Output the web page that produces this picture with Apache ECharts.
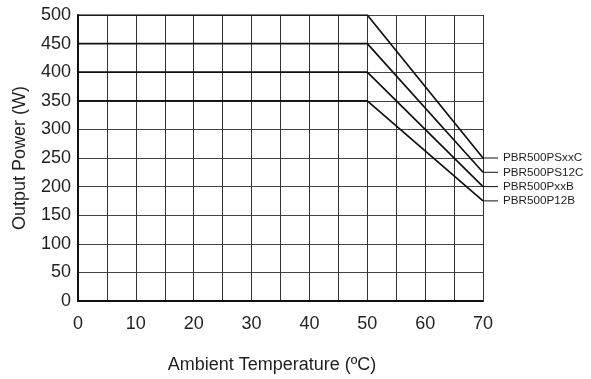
<!DOCTYPE html>
<html>
<head>
<meta charset="utf-8">
<script src="https://cdn.jsdelivr.net/npm/echarts@6/dist/echarts.min.js"></script>
<style>html,body{margin:0;padding:0;background:#fff}#c{width:591px;height:379px}</style>
</head>
<body>
<div id="c"></div>
<script>
const temps = [0, 50, 70];
const seriesNames = ['PBR500PSxxC', 'PBR500PS12C', 'PBR500PxxB', 'PBR500P12B'];
const psxxC = [500, 500, 250];
const ps12C = [450, 450, 225];
const pxxB = [400, 400, 200];
const p12B = [350, 350, 175];
const xTicks = [0, 10, 20, 30, 40, 50, 60, 70];
const yTicks = [0, 50, 100, 150, 200, 250, 300, 350, 400, 450, 500];
const xName = 'Ambient Temperature (ºC)';
const yName = 'Output Power (W)';

const allValues = [psxxC, ps12C, pxxB, p12B];
const textColor = '#231f20';
const font = '"Liberation Sans", Arial, sans-serif';

const chart = echarts.init(document.getElementById('c'), null, {renderer: 'canvas'});
chart.setOption({
  animation: false,
  backgroundColor: '#fff',
  grid: {left: 78, right: 108, top: 15, bottom: 77, containLabel: false},
  xAxis: {
    type: 'value', min: xTicks[0], max: xTicks[xTicks.length - 1], interval: 10,
    name: xName, nameLocation: 'middle', nameGap: 55,
    nameTextStyle: {color: textColor, fontSize: 18, fontFamily: font, padding: [0, 17, 0, 0]},
    axisLine: {show: true, lineStyle: {color: '#111', width: 2}},
    axisTick: {show: false},
    axisLabel: {color: textColor, fontSize: 18, fontFamily: font, margin: 14},
    splitLine: {show: true, lineStyle: {color: '#333', width: 1}},
    minorTick: {show: false, splitNumber: 2},
    minorSplitLine: {show: true, lineStyle: {color: '#333', width: 1}}
  },
  yAxis: {
    type: 'value', min: yTicks[0], max: yTicks[yTicks.length - 1], interval: 50,
    name: yName, nameLocation: 'middle', nameGap: 49, nameRotate: 90,
    nameTextStyle: {color: textColor, fontSize: 18, fontFamily: font},
    axisLine: {show: true, lineStyle: {color: '#111', width: 2}},
    axisTick: {show: false},
    axisLabel: {color: textColor, fontSize: 18, fontFamily: font, margin: 7},
    splitLine: {show: true, lineStyle: {color: '#444', width: 1}}
  },
  series: seriesNames.map((n, i) => ({
    name: n,
    type: 'line',
    data: temps.map((t, j) => [t, allValues[i][j]]),
    symbol: 'none',
    lineStyle: {color: '#111', width: 1.7},
    endLabel: {
      show: true,
      distance: 0,
      formatter: '{s|}{t|' + n + '}',
      rich: {
        s: {width: 15, height: 1, backgroundColor: '#111'},
        t: {color: textColor, fontSize: 11.7, fontFamily: font, padding: [0, 0, 0, 5]}
      }
    }
  }))
});
</script>
</body>
</html>
